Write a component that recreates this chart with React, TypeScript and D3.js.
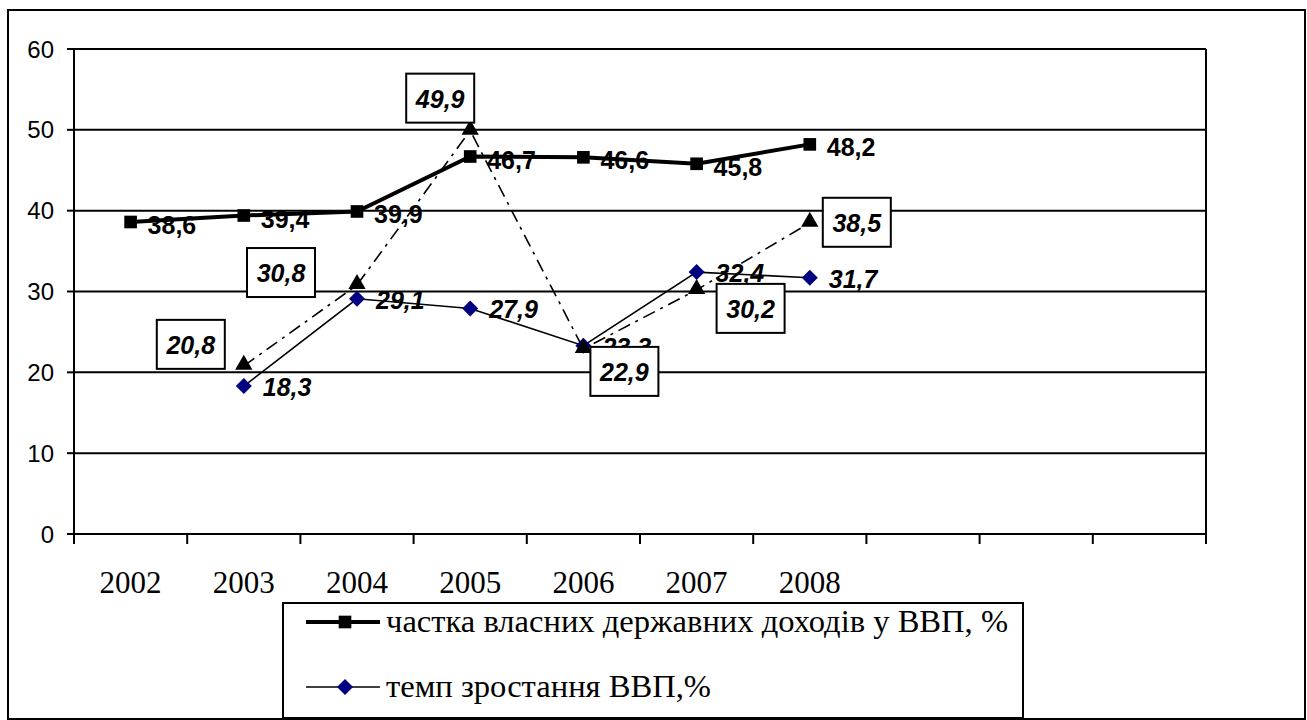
import React from "react";
import * as d3 from "d3";

// years on the category axis (the axis has 10 slots, the last 3 are empty)
const years = ["2002", "2003", "2004", "2005", "2006", "2007", "2008"];
const slotCount = 10;
const yTicks = [0, 10, 20, 30, 40, 50, 60];

// частка власних державних доходів у ВВП, %
const incomeShare = [38.6, 39.4, 39.9, 46.7, 46.6, 45.8, 48.2];
// темп зростання ВВП,%
const gdpGrowth = [null, 18.3, 29.1, 27.9, 23.3, 32.4, 31.7];
// third series (dash-dot, boxed labels, not in legend)
const thirdSeries = [null, 20.8, 30.8, 49.9, 22.9, 30.2, 38.5];

// offsets of the boxed labels from their points (hand placed in the original)
const boxOffsets: [number, number][] = [
  [0, 0], [-53, -22], [-76, -13], [-30, -33], [41, 22], [54, 18], [47, -1],
];

const legendItems = [
  {name: "частка власних державних доходів у ВВП, %", kind: "square", len: 622},
  {name: "темп зростання ВВП,%", kind: "diamond", len: 325},
];

const W = 1307;
const H = 720;
const left = 74, right = 1206, top = 49, bottom = 534;

const fmt = (v: number) => v.toFixed(1).replace(".", ",");

const App = () => {
  const x = d3.scaleBand<number>().domain(d3.range(slotCount)).range([left, right]).padding(0);
  const y = d3.scaleLinear().domain([0, 60]).range([bottom, top]);
  const cx = (i: number) => (x(i) as number) + x.bandwidth() / 2;

  const line = d3.line<number | null>()
    .defined(d => d != null)
    .x((d, i) => cx(i))
    .y(d => y(d as number));

  const square = d3.symbol(d3.symbolSquare, 160)();
  const diamond = (s: number) => `M0,${-s}L${s},0L0,${s}L${-s},0Z`;
  const triangle = d3.symbol(d3.symbolTriangle, 130)();

  const sans = "'Liberation Sans', Arial, sans-serif";
  const serif = "'Liberation Serif', 'Times New Roman', serif";

  return (
    <svg width={W} height={H} style={{position: "absolute", left: 0, top: 0, background: "#fff"}}>
      <rect x={8} y={10} width={1297} height={709} fill="#fff" stroke="#000" strokeWidth={2}/>

      {/* grid */}
      {yTicks.map(t => (
        <g key={t}>
          {t > 0 && <line x1={left} x2={right} y1={y(t)} y2={y(t)} stroke="#000" strokeWidth={2}/>}
          <line x1={left - 7} x2={left} y1={y(t)} y2={y(t)} stroke="#000" strokeWidth={2}/>
          <text x={54} y={y(t)} textAnchor="end" dominantBaseline="central"
                fontFamily={sans} fontSize={24}>{t}</text>
        </g>
      ))}
      <line x1={left} x2={left} y1={top} y2={bottom} stroke="#000" strokeWidth={2}/>
      <line x1={right} x2={right} y1={top} y2={bottom} stroke="#000" strokeWidth={2}/>
      <line x1={left} x2={right} y1={bottom} y2={bottom} stroke="#000" strokeWidth={2}/>
      {d3.range(slotCount + 1).map(i => {
        const xx = i < slotCount ? (x(i) as number) : right;
        return <line key={i} x1={xx} x2={xx} y1={bottom} y2={bottom + 10} stroke="#000" strokeWidth={2}/>;
      })}
      {years.map((yr, i) => (
        <text key={yr} x={cx(i)} y={593} textAnchor="middle" fontFamily={serif} fontSize={31}>{yr}</text>
      ))}

      {/* lines */}
      <path d={line(incomeShare) || ""} fill="none" stroke="#000" strokeWidth={4}/>
      <path d={line(gdpGrowth) || ""} fill="none" stroke="#000" strokeWidth={1.6}/>
      <path d={line(thirdSeries) || ""} fill="none" stroke="#000" strokeWidth={1.6} strokeDasharray="13,6,3,6"/>

      {/* markers */}
      {incomeShare.map((v, i) => (
        <path key={"s" + i} d={square} transform={`translate(${cx(i)},${y(v)})`} fill="#000"/>
      ))}
      {gdpGrowth.map((v, i) => v == null ? null : (
        <path key={"d" + i} d={diamond(8)} transform={`translate(${cx(i)},${y(v)})`} fill="#000080"/>
      ))}
      {thirdSeries.map((v, i) => v == null ? null : (
        <path key={"t" + i} d={triangle} transform={`translate(${cx(i)},${y(v) - 1})`} fill="#000"/>
      ))}

      {/* labels */}
      {incomeShare.map((v, i) => (
        <text key={"ls" + i} x={cx(i) + 17} y={y(v) + 3} dominantBaseline="central"
              fontFamily={sans} fontWeight="bold" fontSize={25}>{fmt(v)}</text>
      ))}
      {gdpGrowth.map((v, i) => v == null ? null : (
        <text key={"ld" + i} x={cx(i) + 19} y={y(v) + 1} dominantBaseline="central"
              fontFamily={sans} fontWeight="bold" fontStyle="italic" fontSize={25}>{fmt(v)}</text>
      ))}
      {thirdSeries.map((v, i) => {
        if (v == null) return null;
        const bx = cx(i) + boxOffsets[i][0];
        const by = y(v) + boxOffsets[i][1];
        return (
          <g key={"lt" + i}>
            <rect x={bx - 34} y={by - 24} width={68} height={49} fill="#fff" stroke="#000" strokeWidth={2}/>
            <text x={bx} y={by + 1} textAnchor="middle" dominantBaseline="central"
                  fontFamily={sans} fontWeight="bold" fontStyle="italic" fontSize={25}>{fmt(v)}</text>
          </g>
        );
      })}

      {/* legend */}
      <rect x={283} y={603} width={740} height={115} fill="#fff" stroke="#000" strokeWidth={2}/>
      {legendItems.map((it, i) => {
        const ly = 622 + i * 65;
        return (
          <g key={it.name}>
            <line x1={306} x2={380} y1={ly} y2={ly} stroke="#000" strokeWidth={it.kind === "square" ? 4 : 1.6}/>
            {it.kind === "square"
              ? <path d={square} transform={`translate(345,${ly})`} fill="#000"/>
              : <path d={diamond(8)} transform={`translate(345,${ly})`} fill="#000080"/>}
            <text x={386} y={ly + 10} fontFamily={serif} fontSize={32}
                  textLength={it.len} lengthAdjust="spacingAndGlyphs">{it.name}</text>
          </g>
        );
      })}
    </svg>
  );
};

export default App;
